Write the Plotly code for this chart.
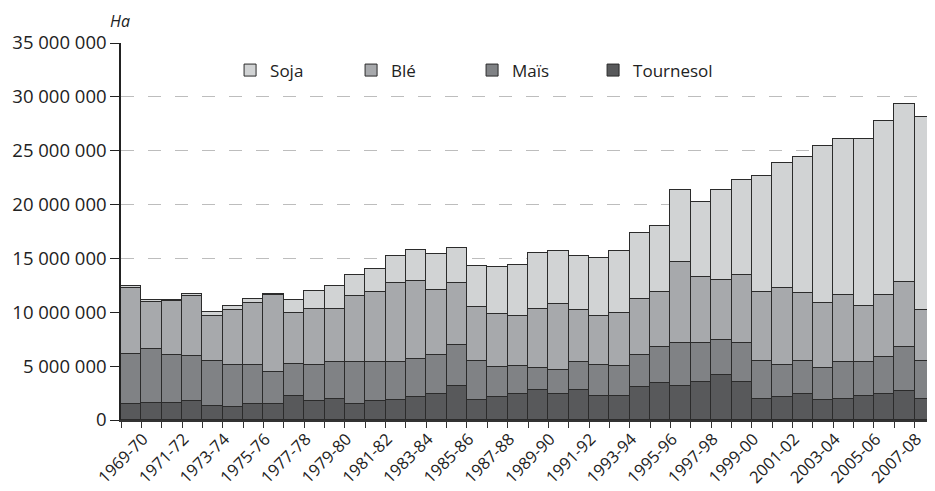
import plotly.graph_objects as go

years = [f"{y}-{str(y+1)[-2:]}" for y in range(1969, 2009)]
tick_labels = [lab if i % 2 == 0 else "" for i, lab in enumerate(years)]

tournesol = [1490,1610,1610,1730,1330,1210,1490,1490,2230,1730,1980,1490,1730,1900,2110,2390,3160,1860,2110,2390,
             2790,2390,2790,2260,2260,3040,3440,3160,3560,4210,3560,1980,2110,2390,1860,1980,2260,2390,2670,1980]
mais = [4670,4960,4430,4190,4180,3900,3620,2970,3000,3380,3410,3900,3660,3490,3530,3620,3780,3620,2850,2600,
        2070,2230,2600,2850,2740,3000,3370,4030,3630,3260,3630,3530,3000,3120,3000,3410,3130,3490,4140,3530]
ble = [6110,4360,5020,5600,4160,5110,5760,7160,4710,5240,4960,6130,6510,7310,7220,6040,5760,4990,4860,4710,
       5490,6130,4830,4590,4940,5230,5120,7460,6040,5540,6290,6420,7130,6260,6010,6260,5230,5770,6020,4710]
soja = [180,220,50,160,400,400,400,50,1180,1610,2100,1960,2100,2480,2880,3320,3310,3840,4370,4700,
        5140,4960,4960,5360,5770,6050,6040,6660,7030,8300,8760,10720,11580,12610,14530,14400,15430,16140,16510,17940]

series = [("Tournesol", tournesol, "#58595b"), ("Maïs", mais, "#808285"),
          ("Blé", ble, "#a7a9ac"), ("Soja", soja, "#d1d3d4")]

fig = go.Figure()
for name, vals, col in series:
    fig.add_trace(go.Bar(x=years, y=[v * 1000 for v in vals], name=name,
                         marker=dict(color=col, line=dict(color="#2b2b2b", width=1))))

font = "Open Sans, Noto Sans, sans-serif"
fig.update_layout(
    barmode="stack", bargap=0,
    width=927, height=483,
    margin=dict(l=113, r=0, t=35, b=71),
    plot_bgcolor="white", paper_bgcolor="white",
    separators=", ",
    font=dict(family=font, size=16, color="#222"),
    legend=dict(orientation="h", x=0.134, y=0.927, xanchor="left", yanchor="middle",
                traceorder="reversed", entrywidth=76, entrywidthmode="pixels",
                font=dict(size=17), bgcolor="rgba(0,0,0,0)"),
    xaxis=dict(type="category", tickmode="array", tickvals=years, ticktext=tick_labels,
               tickangle=-45, tickson="boundaries", ticks="outside", ticklen=6,
               tickcolor="#333", showline=True, linecolor="#333", linewidth=2,
               showgrid=False, tickfont=dict(size=16.5), automargin=False,
               ticklabelshift=12, ticklabelstandoff=1),
    yaxis=dict(range=[0, 35000000], dtick=5000000, tickformat=",d", ticks="outside",
               ticklen=9, tickcolor="#222", showline=True, linecolor="#222", linewidth=1.5,
               showgrid=True, gridcolor="#bdbdbd", griddash="13px,14px", gridwidth=1.2,
               zeroline=False, tickfont=dict(size=18.5), automargin=False),
    annotations=[dict(text="<i>Ha</i>", x=0.0, xref="paper", y=1.0, yref="paper",
                      xshift=-13, yshift=9, showarrow=False, font=dict(size=16),
                      xanchor="left", yanchor="bottom")],
)

fig.write_html("out.html")
